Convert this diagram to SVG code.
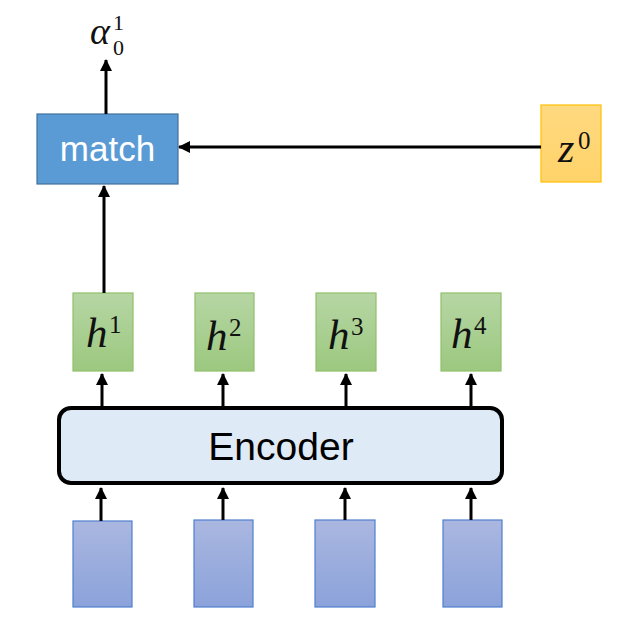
<svg xmlns="http://www.w3.org/2000/svg" width="619" height="627" viewBox="0 0 619 627">
<defs>
<linearGradient id="gGreen" x1="0" y1="0" x2="0" y2="1"><stop offset="0" stop-color="#b6d6a4"/><stop offset="1" stop-color="#9cc87f"/></linearGradient>
<linearGradient id="gBlue" x1="0" y1="0" x2="0" y2="1"><stop offset="0" stop-color="#aab7e0"/><stop offset="1" stop-color="#8ba2da"/></linearGradient>
<linearGradient id="gOrange" x1="0" y1="0" x2="0" y2="1"><stop offset="0" stop-color="#ffd980"/><stop offset="1" stop-color="#ffd36a"/></linearGradient>
<marker id="arr" markerUnits="userSpaceOnUse" markerWidth="12" markerHeight="12" refX="11" refY="6" orient="auto"><path d="M0,0 L12,6 L0,12 Z" fill="#000"/></marker>
</defs>
<style>
.conn line{stroke:#000;stroke-width:3;marker-end:url(#arr)}
.h rect{fill:url(#gGreen);stroke:#8fc06a;stroke-width:1.2}
.x rect{fill:url(#gBlue);stroke:#4f7fd0;stroke-width:1.2}
.math{font-family:"Liberation Serif","DejaVu Serif",serif;fill:#111}
.it{font-style:italic}
</style>
<g id="match"><rect x="37" y="114" width="141" height="70" fill="#5b9bd5" stroke="#41719c" stroke-width="1.2"/><text x="107.5" y="161" font-family="Liberation Sans, Arial, sans-serif" font-size="35" fill="#fff" text-anchor="middle">match</text></g>
<g id="alpha"><text class="math" x="90" y="44" font-size="38"><tspan class="it">α</tspan></text><text class="math" x="113" y="30" font-size="22">1</text><text class="math" x="113" y="55" font-size="22">0</text></g>
<g id="z0"><rect x="541" y="105" width="60" height="77" fill="url(#gOrange)" stroke="#ffc000" stroke-width="1.2"/><text class="math" x="558" y="162" font-size="42"><tspan class="it">z</tspan></text><text class="math" x="578" y="149" font-size="25">0</text></g>
<g id="h1" class="h"><rect x="73" y="293" width="60" height="78"/><text class="math" x="86" y="347" font-size="43"><tspan class="it">h</tspan></text><text class="math" x="109" y="333" font-size="25">1</text></g>
<g id="h2" class="h"><rect x="195" y="293" width="59" height="78"/><text class="math" x="206" y="350" font-size="43"><tspan class="it">h</tspan></text><text class="math" x="229" y="336" font-size="25">2</text></g>
<g id="h3" class="h"><rect x="316" y="293" width="60" height="78"/><text class="math" x="328" y="349" font-size="43"><tspan class="it">h</tspan></text><text class="math" x="351" y="335" font-size="25">3</text></g>
<g id="h4" class="h"><rect x="441" y="293" width="60" height="78"/><text class="math" x="451" y="348" font-size="43"><tspan class="it">h</tspan></text><text class="math" x="474" y="334" font-size="25">4</text></g>
<g id="encoder"><rect x="59" y="408" width="443" height="75" rx="12" fill="#deeaf6" stroke="#000" stroke-width="4"/><text x="281" y="460" font-family="Liberation Sans, Arial, sans-serif" font-size="39" fill="#000" text-anchor="middle">Encoder</text></g>
<g id="x1" class="x"><rect x="73" y="521" width="59" height="86"/></g>
<g id="x2" class="x"><rect x="194" y="520" width="59" height="87"/></g>
<g id="x3" class="x"><rect x="315" y="520" width="60" height="87"/></g>
<g id="x4" class="x"><rect x="443" y="520" width="59" height="87"/></g>
<g class="conn">
<line x1="106" y1="114" x2="106" y2="60"/>
<line x1="541" y1="147" x2="179" y2="147"/>
<line x1="104" y1="293" x2="104" y2="186"/>
<line x1="102" y1="407" x2="102" y2="374"/>
<line x1="223" y1="407" x2="223" y2="374"/>
<line x1="346" y1="407" x2="346" y2="374"/>
<line x1="471" y1="407" x2="471" y2="374"/>
<line x1="101" y1="521" x2="101" y2="488"/>
<line x1="223" y1="520" x2="223" y2="488"/>
<line x1="345" y1="520" x2="345" y2="488"/>
<line x1="471" y1="520" x2="471" y2="488"/>
</g>
</svg>
